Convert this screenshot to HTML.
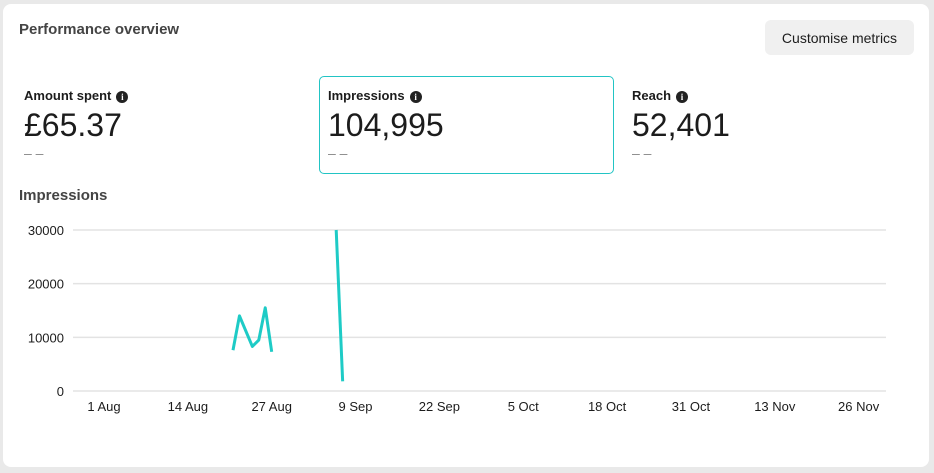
<!DOCTYPE html>
<html><head><meta charset="utf-8"><style>
body{margin:0;width:934px;height:473px;background:#e9e9e9;font-family:"Liberation Sans",sans-serif;overflow:hidden;position:relative}
.card{position:absolute;left:3px;top:4px;width:926px;height:463px;background:#fff;border-radius:8px}
.abs{position:absolute;color:#1c1c1c}
.title{font-weight:bold;font-size:15px;color:#444}
.btn{position:absolute;left:765px;top:20px;width:149px;height:35px;background:#f0f0f0;border-radius:6px;font-size:14px;color:#1c1c1c;display:flex;align-items:center;justify-content:center}
.lab{font-weight:bold;font-size:13px;color:#1c1c1c;height:16px}
.info{display:inline-block;width:12px;height:12px;border-radius:50%;background:#222;color:#fff;font-size:9px;line-height:12px;text-align:center;vertical-align:0px;margin-left:5px;font-family:"Liberation Serif",serif;font-weight:bold}
.val{font-size:32px;color:#1c1c1c;margin-top:3px;line-height:36px}
.dash{font-size:14px;color:#888;margin-top:2px}
.sel{position:absolute;left:319px;top:76px;width:295px;height:98px;border:1px solid #22c4c4;border-radius:5px;box-sizing:border-box}
</style></head><body>
<div class="card"></div>
<div class="abs title" style="left:19px;top:21px">Performance overview</div>
<div class="btn">Customise metrics</div>
<div class="sel"></div>
<div class="abs" style="left:24px;top:88px"><div class="lab">Amount spent<span class="info">i</span></div><div class="val">£65.37</div><div class="dash">– –</div></div>
<div class="abs" style="left:328px;top:88px"><div class="lab">Impressions<span class="info">i</span></div><div class="val">104,995</div><div class="dash">– –</div></div>
<div class="abs" style="left:632px;top:88px"><div class="lab">Reach<span class="info">i</span></div><div class="val">52,401</div><div class="dash">– –</div></div>
<div class="abs title" style="left:19px;top:187px">Impressions</div>
<svg id="ch" width="934" height="473" style="position:absolute;left:0;top:0"></svg>
<script>
const yTicks=[0,10000,20000,30000];
const xTickLabels=["1 Aug","14 Aug","27 Aug","9 Sep","22 Sep","5 Oct","18 Oct","31 Oct","13 Nov","26 Nov"];
const xTickDays=[0,13,26,39,52,65,78,91,104,117];
const days=[20,21,23,24,25,26,null,36,37];
const values=[7600,14000,8300,9500,15500,7300,null,30000,1800];
const NS="http://www.w3.org/2000/svg";
const svg=document.getElementById('ch');
const x=d=>104+d*6.45, y=v=>391-v*(161/30000);
function mk(t,a){const e=document.createElementNS(NS,t);for(const k in a)e.setAttribute(k,a[k]);svg.appendChild(e);return e;}
yTicks.forEach(v=>{
 const l=mk('line',{x1:73,x2:886,y1:y(v),y2:y(v),stroke:'#e3e3e3','stroke-width':1.5});
 
 
 const t=mk('text',{x:64,y:y(v)+5,'text-anchor':'end','font-size':13,fill:'#1c1c1c','font-family':'Liberation Sans, sans-serif'});
 t.textContent=v;
 
 
});
xTickLabels.forEach((s,i)=>{
 const t=mk('text',{x:x(xTickDays[i]),y:411,'text-anchor':'middle','font-size':13,fill:'#1c1c1c','font-family':'Liberation Sans, sans-serif'});
 t.textContent=s;
 
 
});
let segs=[],cur=[];
days.forEach((d,i)=>{if(d===null||values[i]===null){if(cur.length)segs.push(cur);cur=[];}else cur.push([x(d),y(values[i])]);});
if(cur.length)segs.push(cur);
segs.forEach(s=>{
 const p=mk('polyline',{points:s.map(q=>q.join(',')).join(' '),fill:'none',stroke:'#1ecbc6','stroke-width':3,'stroke-linejoin':'round'});
 
 
});
</script>
</body></html>
